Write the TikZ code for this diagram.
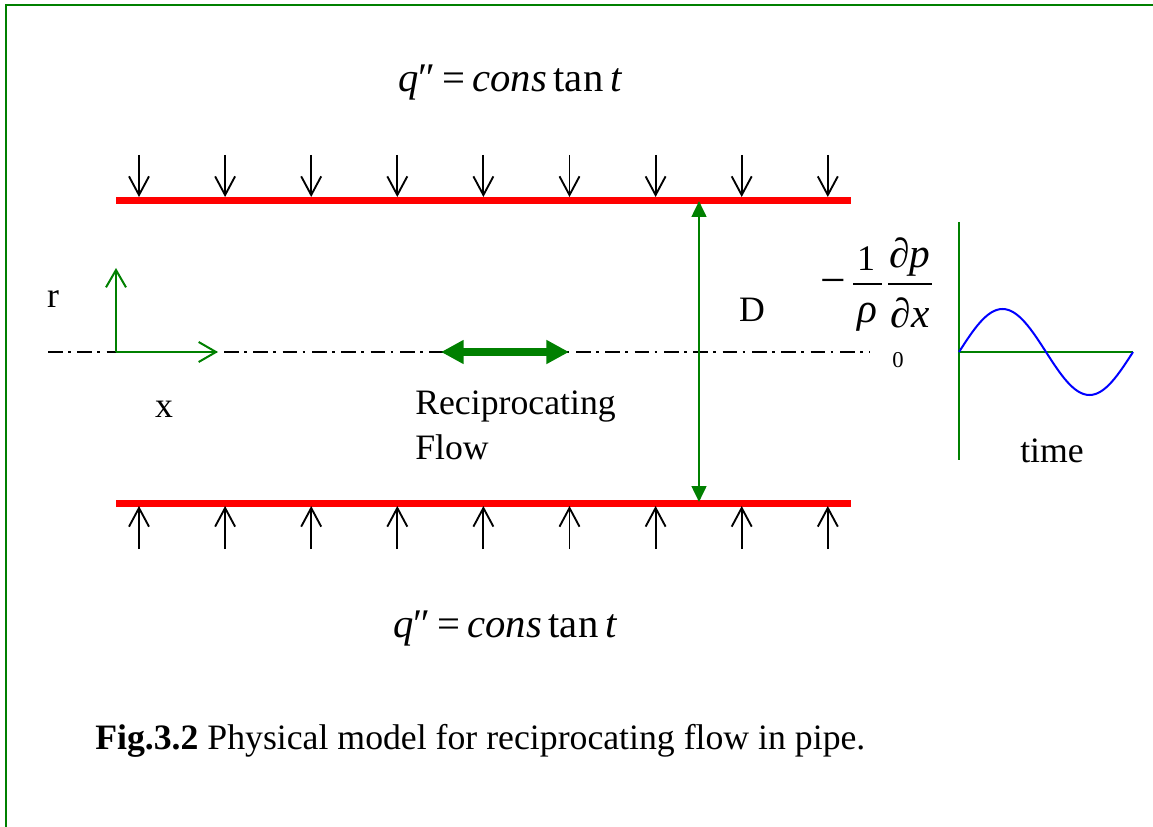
\documentclass[tikz,border=0pt]{standalone}
\usepackage{fontspec}
\setmainfont{Liberation Serif}
\usetikzlibrary{arrows.meta}
\definecolor{fgreen}{RGB}{0,128,0}
\definecolor{wallred}{RGB}{255,0,0}
\definecolor{waveblue}{RGB}{0,0,255}
\tikzset{
  wall/.style={draw=wallred, line width=5.25pt},
  flux/.style={draw=black, line width=1.4pt, -{Straight Barb[length=14pt,width=15pt]}},
  axis/.style={draw=fgreen, line width=1.5pt, -{Straight Barb[length=13pt,width=15pt]}},
  centerline/.style={draw=black, line width=1.1pt, dash pattern=on 11pt off 4pt on 2pt off 5pt},
  flowarrow/.style={draw=fgreen, line width=5.5pt, {Triangle[length=17pt,width=17pt]}-{Triangle[length=17pt,width=17pt]}},
  diam/.style={draw=fgreen, line width=2pt, {Triangle[length=12pt,width=11pt]}-{Triangle[length=12pt,width=11pt]}},
  lbl/.style={inner sep=0pt, font=\fontsize{26.8}{32}\selectfont},
  eqn/.style={inner sep=0pt, font=\fontsize{30.5}{36}\selectfont},
  digit/.style={inner sep=0pt, font=\fontsize{27}{32}\selectfont},
  frac/.style={inner sep=0pt, font=\fontsize{31}{36}\selectfont},
  small/.style={inner sep=0pt, font=\fontsize{17}{20}\selectfont},
}
\begin{document}
\begin{tikzpicture}[x=0.75pt, y=-0.75pt]
\useasboundingbox (0,0) rectangle (1153,827);
% outer frame
\draw[fgreen, line width=1.6pt] (6,830) -- (6,5) -- (1156,5);

% pipe centreline
\coordinate (cl0) at (48,352);
\coordinate (cl1) at (870,352);
\draw[centerline] (cl0) -- (cl1);

% pipe walls
\coordinate (tw0) at (116,200.5);
\coordinate (tw1) at (851,200.5);
\coordinate (bw0) at (116,503);
\coordinate (bw1) at (851,503);
\draw[wall] (tw0) -- (tw1);
\draw[wall] (bw0) -- (bw1);

% heat flux arrows
\foreach \i in {0,...,8} {
  \pgfmathsetmacro\xx{139+86.1*\i}
  \coordinate (ts\i) at (\xx,155);
  \coordinate (te\i) at (\xx,197);
  \coordinate (bs\i) at (\xx,549);
  \coordinate (be\i) at (\xx,506);
  \draw[flux] (ts\i) -- (te\i);
  \draw[flux] (bs\i) -- (be\i);
}

% q'' labels
\node[eqn, anchor=base] (qtop) at (510,92) {{\itshape q}″\,=\,{\itshape cons}\,tan\,{\itshape t}};
\node[eqn, anchor=base] (qbot) at (505,637) {{\itshape q}″\,=\,{\itshape cons}\,tan\,{\itshape t}};

% coordinate axes
\coordinate (org) at (116,352);
\coordinate (rtip) at (116,268);
\coordinate (xtip) at (218,352);
\draw[axis] (org) -- (rtip);
\draw[axis] (org) -- (xtip);
\node[lbl, anchor=base] (rlab) at (53,308) {r};
\node[lbl, anchor=base] (xlab) at (164,417) {x};

% reciprocating flow
\coordinate (fl0) at (441,352);
\coordinate (fl1) at (569,352);
\draw[flowarrow] (fl0) -- (fl1);
\node[lbl, anchor=base west] (rec) at (415,414) {Reciprocating};
\node[lbl, anchor=base west] (flow) at (415,459) {Flow};

% diameter
\coordinate (d0) at (699,201);
\coordinate (d1) at (699,502);
\draw[diam] (d0) -- (d1);
\node[lbl, anchor=base] (dlab) at (752,321) {D};

% pressure gradient label
\node[inner sep=0pt, font=\fontsize{34}{40}\selectfont, anchor=base] (minus) at (833,296) {−};
\node[digit, anchor=base] (one) at (866,271) {1};
\node[frac, anchor=base] (rho) at (867,322) {\itshape ρ};
\node[frac, anchor=base] (dp) at (910,268) {\itshape ∂p};
\node[frac, anchor=base] (dx) at (910,327) {\itshape ∂x};
\coordinate (b1a) at (853,284);
\coordinate (b1b) at (882,284);
\coordinate (b2a) at (888,284);
\coordinate (b2b) at (932,284);
\draw[line width=1.1pt] (b1a) -- (b1b);
\draw[line width=1.1pt] (b2a) -- (b2b);
\node[small, anchor=base] (zero) at (898,367) {0};

% forcing signal plot
\coordinate (pv0) at (959,222);
\coordinate (pv1) at (959,460);
\coordinate (ph0) at (959,352);
\coordinate (ph1) at (1133,352);
\draw[fgreen, line width=1.5pt] (pv0) -- (pv1);
\draw[fgreen, line width=1.5pt] (ph0) -- (ph1);
\draw[waveblue, line width=1.5pt] (ph0) sin (1002.5,309) cos (1046,352) sin (1089.5,395) cos (ph1);
\node[lbl, anchor=base] (time) at (1052,462) {time};

% caption
\node[lbl, anchor=base west] (cap) at (95,749) {\textbf{Fig.3.2} Physical model for reciprocating flow in pipe.};
\end{tikzpicture}
\end{document}
